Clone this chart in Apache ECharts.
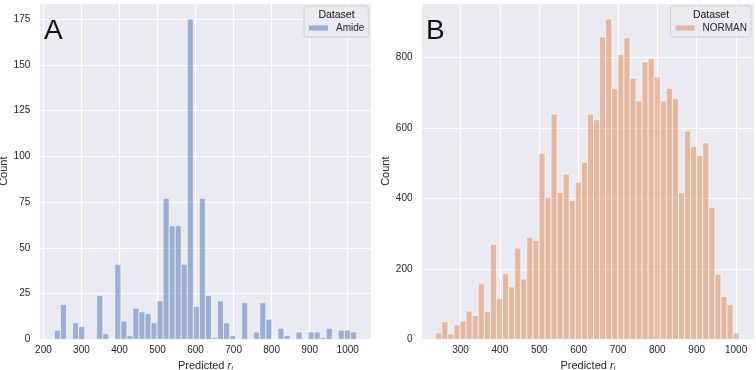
<!DOCTYPE html>
<html>
<head>
<meta charset="utf-8">
<script src="https://cdn.jsdelivr.net/npm/echarts@6/dist/echarts.min.js"></script>
<style>
  html, body { margin: 0; background: #fff; }
  #chart { width: 756px; height: 370px; }
</style>
</head>
<body>
<div id="chart"></div>
<script>
// panel A - Amide
var amideStart = 228.9;
var amideWidth = 15.88;
var amideCounts = [5, 19, 0, 9, 7, 0, 0, 24, 3, 0, 41, 10, 2, 17, 15, 14, 9, 21, 77, 62,
  62, 41, 175, 18, 77, 24, 1, 21, 9, 2, 0, 20, 0, 4, 20, 11, 0, 6, 2, 0,
  4, 0, 4, 4, 1, 6, 0, 5, 5, 4];
var amideXTicks = [200, 300, 400, 500, 600, 700, 800, 900, 1000];
var amideYTicks = [0, 25, 50, 75, 100, 125, 150, 175];

// panel B - NORMAN
var normanStart = 237.3;
var normanWidth = 15.41;
var normanCounts = [18, 50, 15, 41, 52, 80, 67, 158, 78, 270, 116, 187, 149, 259, 171, 290, 281, 528, 404, 640,
  417, 470, 394, 446, 503, 640, 624, 859, 910, 712, 809, 857, 742, 677, 788, 798, 745, 677, 713, 684,
  416, 592, 548, 522, 558, 375, 185, 122, 98, 18];
var normanXTicks = [300, 400, 500, 600, 700, 800, 900, 1000];
var normanYTicks = [0, 200, 400, 600, 800];

var font = "'Liberation Sans', Arial, sans-serif";
var ink = '#262626';

function toBins(start, width, counts) {
  return counts.map(function (c, i) {
    return [start + i * width, start + (i + 1) * width, c];
  });
}

function drawBar(params, api) {
  var n = api.value(2);
  if (!n) return;
  var a = api.coord([api.value(0), 0]);
  var b = api.coord([api.value(1), n]);
  return {
    type: 'rect',
    shape: { x: a[0], y: b[1], width: b[0] - a[0], height: a[1] - b[1] },
    style: { fill: api.visual('color'), stroke: 'rgba(255,255,255,0.75)', lineWidth: 0.8 }
  };
}

function onlyTicks(list) {
  return function (v) { return list.indexOf(v) >= 0 ? String(v) : ''; };
}

function xAxis(idx, min, max, ticks) {
  return {
    gridIndex: idx, type: 'value', min: min, max: max, splitNumber: 9,
    axisLine: { show: false }, axisTick: { show: false },
    splitLine: { lineStyle: { color: '#ffffff', width: 1.2 } },
    axisLabel: { color: ink, fontSize: 10, fontFamily: font, margin: 6, formatter: onlyTicks(ticks) },
    name: 'Predicted {r|r}{i|i}', nameLocation: 'middle', nameGap: 18,
    nameTextStyle: {
      color: ink, fontSize: 11, fontFamily: font,
      rich: {
        r: { fontStyle: 'italic', fontSize: 11, fontFamily: font, color: ink },
        i: { fontStyle: 'italic', fontSize: 7.5, fontFamily: font, color: ink, padding: [6, 0, 0, 0] }
      }
    }
  };
}

function yAxis(idx, max, interval, ticks) {
  return {
    gridIndex: idx, type: 'value', min: 0, max: max, interval: interval,
    axisLine: { show: false }, axisTick: { show: false },
    splitLine: { lineStyle: { color: '#ffffff', width: 1.2 } },
    axisLabel: { color: ink, fontSize: 10, fontFamily: font, margin: 9, formatter: onlyTicks(ticks) },
    name: 'Count', nameLocation: 'middle', nameGap: 28,
    nameTextStyle: { color: ink, fontSize: 11, fontFamily: font }
  };
}

function legend(pos, name) {
  return Object.assign({
    top: 6, orient: 'vertical', data: [name], selectedMode: false,
    icon: 'rect', itemWidth: 19, itemHeight: 5,
    padding: [17, 4, 4, 5],
    backgroundColor: 'rgba(234,234,242,0.8)', borderColor: '#cfcfd6', borderWidth: 1, borderRadius: 3,
    textStyle: { color: ink, fontSize: 10, fontFamily: font, padding: [0, 0, 0, 3] }
  }, pos);
}

function label(text, x, y, size, align) {
  return {
    type: 'text', z: 100, x: x, y: y,
    style: { text: text, fill: '#111', font: size + 'px ' + font, textAlign: align, textVerticalAlign: 'middle' }
  };
}

var chart = echarts.init(document.getElementById('chart'), null, { renderer: 'canvas' });
chart.setOption({
  animation: false,
  backgroundColor: '#ffffff',
  textStyle: { fontFamily: font },
  grid: [
    { left: 39.3, top: 3, width: 332.2, height: 336.3, outerBoundsMode: 'none', containLabel: false,
      show: true, backgroundColor: '#eaeaf2', borderWidth: 0 },
    { left: 421.5, top: 3, width: 332.7, height: 336.3, outerBoundsMode: 'none', containLabel: false,
      show: true, backgroundColor: '#eaeaf2', borderWidth: 0 }
  ],
  xAxis: [
    xAxis(0, 189.2, 1062.5, amideXTicks),
    xAxis(1, 201, 1046, normanXTicks)
  ],
  yAxis: [
    yAxis(0, 183.75, 25, amideYTicks),
    yAxis(1, 955.5, 200, normanYTicks)
  ],
  legend: [
    legend({ left: 304 }, 'Amide'),
    legend({ right: 5 }, 'NORMAN')
  ],
  graphic: [
    label('A', 44, 31, 28, 'left'),
    label('B', 426, 31, 28, 'left'),
    label('Dataset', 336.5, 14.7, 10.5, 'center'),
    label('Dataset', 711, 14.7, 10.5, 'center')
  ],
  series: [
    {
      name: 'Amide', type: 'custom', xAxisIndex: 0, yAxisIndex: 0,
      itemStyle: { color: 'rgba(76,114,176,0.5)' },
      encode: { x: [0, 1], y: 2 },
      renderItem: drawBar,
      data: toBins(amideStart, amideWidth, amideCounts)
    },
    {
      name: 'NORMAN', type: 'custom', xAxisIndex: 1, yAxisIndex: 1,
      itemStyle: { color: 'rgba(221,132,82,0.5)' },
      encode: { x: [0, 1], y: 2 },
      renderItem: drawBar,
      data: toBins(normanStart, normanWidth, normanCounts)
    }
  ]
});
</script>
</body>
</html>
